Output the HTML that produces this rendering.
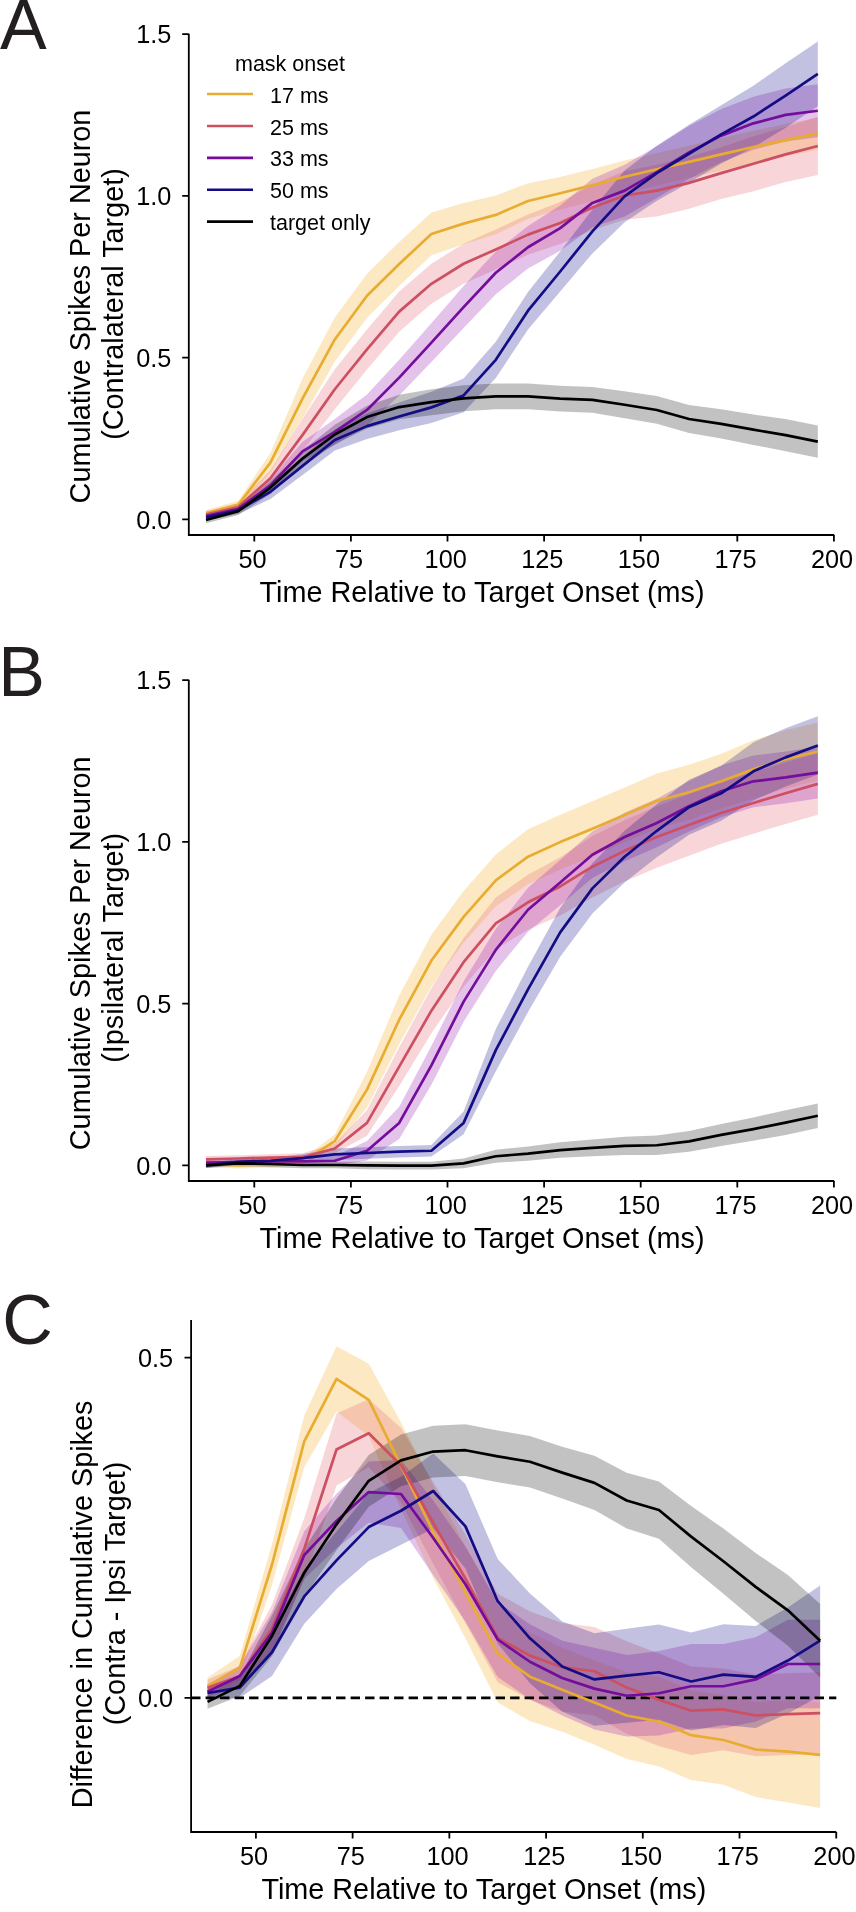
<!DOCTYPE html>
<html><head><meta charset="utf-8"><style>
html,body{margin:0;padding:0;background:#fff;}
svg{display:block;will-change:transform;}
text{font-family:"Liberation Sans",sans-serif;fill:#000;}
.tk{font-size:25.3px;}
.al{font-size:28.8px;}
.lg{font-size:21.5px;}
.pl{font-size:70px;fill:#231f20;}
</style></head><body>
<svg width="856" height="1912" viewBox="0 0 856 1912">
<rect width="856" height="1912" fill="#fff"/>
<text x="0" y="48.8" class="pl">A</text>
<text x="-1.8" y="696" class="pl">B</text>
<text x="2.2" y="1343.6" class="pl">C</text>
<polygon points="206,509.92 238.2,500.86 270.4,452.98 302.6,378.25 334.8,317.44 367,273.76 399.2,242.06 431.4,212.62 463.6,202.92 495.8,195.48 528,183.18 560.2,177.04 592.4,168.95 624.6,160.54 656.8,153.1 689,145.66 721.2,138.22 753.4,130.78 785.6,123.98 817.8,117.51 817.8,149.86 785.6,156.33 753.4,163.13 721.2,170.57 689,178.01 656.8,185.45 624.6,192.89 592.4,201.3 560.2,209.39 528,218.77 495.8,234.3 463.6,244.32 431.4,255.32 399.2,286.06 367,317.76 334.8,361.43 302.6,418.37 270.4,472.39 238.2,508.62 206,516.39" fill="#f6b73c" fill-opacity="0.3"/>
<polygon points="206,511.37 238.2,503.12 270.4,470.13 302.6,418.69 334.8,369.2 367,329.41 399.2,291.56 431.4,263.73 463.6,243.68 495.8,229.44 528,214.56 560.2,201.95 592.4,184.8 624.6,171.21 656.8,164.74 689,156.98 721.2,147.27 753.4,136.28 785.6,126.89 817.8,116.87 817.8,175.1 785.6,181.89 753.4,191.27 721.2,199.03 689,208.74 656.8,216.5 624.6,219.74 592.4,230.09 560.2,244 528,254.68 495.8,269.56 463.6,283.79 431.4,303.85 399.2,331.67 367,369.52 334.8,409.31 302.6,451.04 270.4,486.3 238.2,510.89 206,517.84" fill="#e16470" fill-opacity="0.27"/>
<polygon points="206,512.83 238.2,505.07 270.4,478.86 302.6,441.66 334.8,419.01 367,394.43 399.2,359.81 431.4,323.26 463.6,286.06 495.8,251.44 528,225.89 560.2,205.5 592.4,178.65 624.6,164.74 656.8,146.3 689,125.92 721.2,109.1 753.4,96.81 785.6,88.4 817.8,84.19 817.8,137.25 785.6,141.45 753.4,149.86 721.2,162.16 689,178.98 656.8,198.06 624.6,216.5 592.4,227.18 560.2,250.79 528,268.59 495.8,294.14 463.6,328.11 431.4,362.08 399.2,395.4 367,425.48 334.8,444.89 302.6,461.07 270.4,491.8 238.2,512.83 206,519.3" fill="#9a20b0" fill-opacity="0.27"/>
<polygon points="206,514.12 238.2,506.36 270.4,484.69 302.6,456.86 334.8,429.69 367,413.19 399.2,402.52 431.4,391.84 463.6,378.58 495.8,341.7 528,291.88 560.2,251.44 592.4,209.39 624.6,170.57 656.8,145.66 689,124.63 721.2,105.22 753.4,85.81 785.6,63.16 817.8,41.49 817.8,106.19 785.6,127.86 753.4,147.27 721.2,163.45 689,182.86 656.8,200.65 624.6,222.33 592.4,253.38 560.2,291.56 528,329.41 495.8,377.93 463.6,412.22 431.4,422.9 399.2,430.34 367,439.07 334.8,450.39 302.6,474.98 270.4,498.92 238.2,514.12 206,520.59" fill="#0d0887" fill-opacity="0.25"/>
<polygon points="206,516.71 238.2,507.33 270.4,481.13 302.6,450.39 334.8,424.84 367,405.75 399.2,394.75 431.4,389.25 463.6,385.37 495.8,383.43 528,383.43 560.2,385.69 592.4,386.99 624.6,391.19 656.8,396.05 689,405.1 721.2,409.31 753.4,414.49 785.6,419.01 817.8,425.48 817.8,457.83 785.6,451.36 753.4,444.89 721.2,438.42 689,432.93 656.8,423.87 624.6,418.37 592.4,412.87 560.2,411.57 528,409.31 495.8,409.31 463.6,411.25 431.4,415.13 399.2,419.34 367,428.4 334.8,444.25 302.6,466.57 270.4,494.07 238.2,515.09 206,523.18" fill="#000000" fill-opacity="0.24"/>
<polyline points="206,513.15 238.2,504.74 270.4,462.69 302.6,398.31 334.8,339.43 367,295.76 399.2,264.06 431.4,233.97 463.6,223.62 495.8,214.89 528,200.98 560.2,193.21 592.4,185.12 624.6,176.71 656.8,169.27 689,161.83 721.2,154.39 753.4,146.95 785.6,140.16 817.8,133.69" fill="none" stroke="#e8ac30" stroke-width="2.7" stroke-linejoin="round" stroke-linecap="butt"/>
<polyline points="206,514.61 238.2,507.01 270.4,478.22 302.6,434.87 334.8,389.25 367,349.46 399.2,311.61 431.4,283.79 463.6,263.73 495.8,249.5 528,234.62 560.2,222.97 592.4,207.45 624.6,195.48 656.8,190.62 689,182.86 721.2,173.15 753.4,163.77 785.6,154.39 817.8,145.98" fill="none" stroke="#cc5062" stroke-width="2.7" stroke-linejoin="round" stroke-linecap="butt"/>
<polyline points="206,516.06 238.2,508.95 270.4,485.33 302.6,451.36 334.8,431.95 367,409.96 399.2,377.61 431.4,342.67 463.6,307.08 495.8,272.79 528,247.24 560.2,228.15 592.4,202.92 624.6,190.62 656.8,172.18 689,152.45 721.2,135.63 753.4,123.34 785.6,114.92 817.8,110.72" fill="none" stroke="#740c9c" stroke-width="2.7" stroke-linejoin="round" stroke-linecap="butt"/>
<polyline points="206,517.36 238.2,510.24 270.4,491.8 302.6,465.92 334.8,440.04 367,426.13 399.2,416.43 431.4,407.37 463.6,395.4 495.8,359.81 528,310.64 560.2,271.5 592.4,231.38 624.6,196.45 656.8,173.15 689,153.75 721.2,134.33 753.4,116.54 785.6,95.51 817.8,73.84" fill="none" stroke="#140c84" stroke-width="2.7" stroke-linejoin="round" stroke-linecap="butt"/>
<polyline points="206,519.95 238.2,511.21 270.4,487.6 302.6,458.48 334.8,434.54 367,417.07 399.2,407.05 431.4,402.19 463.6,398.31 495.8,396.37 528,396.37 560.2,398.63 592.4,399.93 624.6,404.78 656.8,409.96 689,419.01 721.2,423.87 753.4,429.69 785.6,435.19 817.8,441.66" fill="none" stroke="#000000" stroke-width="2.7" stroke-linejoin="round" stroke-linecap="butt"/>
<path d="M188.8 33.8V535H834.2" fill="none" stroke="#000" stroke-width="1.8"/>
<text x="171.3" y="528.5" text-anchor="end" class="tk">0.0</text>
<text x="171.3" y="366.75" text-anchor="end" class="tk">0.5</text>
<text x="171.3" y="205" text-anchor="end" class="tk">1.0</text>
<text x="171.3" y="43.25" text-anchor="end" class="tk">1.5</text>
<text x="252.5" y="567.6" text-anchor="middle" class="tk">50</text>
<text x="349.1" y="567.6" text-anchor="middle" class="tk">75</text>
<text x="445.7" y="567.6" text-anchor="middle" class="tk">100</text>
<text x="542.3" y="567.6" text-anchor="middle" class="tk">125</text>
<text x="638.9" y="567.6" text-anchor="middle" class="tk">150</text>
<text x="735.5" y="567.6" text-anchor="middle" class="tk">175</text>
<text x="832.1" y="567.6" text-anchor="middle" class="tk">200</text>
<path d="M182.2 519.3H188.8M182.2 357.55H188.8M182.2 195.8H188.8M182.2 34.05H188.8M254.3 535V541.6M350.9 535V541.6M447.5 535V541.6M544.1 535V541.6M640.7 535V541.6M737.3 535V541.6M833.9 535V541.6" stroke="#000" stroke-width="1.8"/>
<polygon points="206,1160.77 238.2,1162.07 270.4,1161.09 302.6,1158.51 334.8,1134.57 367,1071.81 399.2,995.46 431.4,934.64 463.6,890.97 495.8,854.42 528,829.18 560.2,814.63 592.4,801.36 624.6,787.45 656.8,773.54 689,764.81 721.2,753.81 753.4,740.22 785.6,730.19 817.8,722.43 817.8,780.66 785.6,788.42 753.4,798.45 721.2,808.8 689,819.8 656.8,828.54 624.6,842.45 592.4,856.36 560.2,869.62 528,884.18 495.8,906.18 463.6,942.73 431.4,986.4 399.2,1043.99 367,1107.39 334.8,1147.51 302.6,1164.98 270.4,1167.56 238.2,1168.53 206,1167.24" fill="#f6b73c" fill-opacity="0.3"/>
<polygon points="206,1156.08 238.2,1155.27 270.4,1154.3 302.6,1153.33 334.8,1143.63 367,1109.98 399.2,1047.22 431.4,988.02 463.6,937.88 495.8,897.44 528,874.8 560.2,857.33 592.4,835.98 624.6,820.13 656.8,806.21 689,794.25 721.2,782.28 753.4,772.25 785.6,762.54 817.8,753.16 817.8,814.63 785.6,824.01 753.4,833.71 721.2,843.74 689,855.71 656.8,867.68 624.6,881.59 592.4,897.44 560.2,915.56 528,929.79 495.8,949.2 463.6,986.4 431.4,1033.31 399.2,1086.04 367,1135.86 334.8,1153.33 302.6,1161.09 270.4,1160.77 238.2,1161.74 206,1162.55" fill="#e16470" fill-opacity="0.27"/>
<polygon points="206,1160.12 238.2,1159.48 270.4,1158.83 302.6,1158.18 334.8,1155.92 367,1141.04 399.2,1106.75 431.4,1045.93 463.6,981.55 495.8,928.82 528,887.74 560.2,859.92 592.4,831.45 624.6,812.68 656.8,798.77 689,780.98 721.2,765.45 753.4,755.43 785.6,751.54 817.8,746.69 817.8,798.45 785.6,803.3 753.4,807.19 721.2,817.21 689,831.45 656.8,847.3 624.6,861.21 592.4,878.03 560.2,905.21 528,931.73 495.8,970.88 463.6,1021.67 431.4,1084.75 399.2,1139.1 367,1160.45 334.8,1165.62 302.6,1164.65 270.4,1164.01 238.2,1164.65 206,1165.3" fill="#9a20b0" fill-opacity="0.27"/>
<polygon points="206,1162.71 238.2,1159.15 270.4,1157.54 302.6,1154.3 334.8,1148.48 367,1147.18 399.2,1145.89 431.4,1144.92 463.6,1111.6 495.8,1029.11 528,966.67 560.2,908.12 592.4,863.15 624.6,830.8 656.8,804.27 689,779.69 721.2,765.78 753.4,742.16 785.6,728.25 817.8,716.28 817.8,774.51 785.6,786.48 753.4,800.39 721.2,820.77 689,834.68 656.8,857.33 624.6,882.56 592.4,913.62 560.2,956.64 528,1011.96 495.8,1071.16 463.6,1134.24 431.4,1156.57 399.2,1157.54 367,1158.83 334.8,1160.12 302.6,1162.07 270.4,1164.01 238.2,1164.33 206,1167.89" fill="#0d0887" fill-opacity="0.25"/>
<polygon points="206,1162.71 238.2,1160.77 270.4,1160.77 302.6,1161.74 334.8,1161.74 367,1161.42 399.2,1161.74 431.4,1161.74 463.6,1158.51 495.8,1149.77 528,1146.54 560.2,1142.33 592.4,1139.42 624.6,1136.83 656.8,1135.54 689,1131.01 721.2,1123.89 753.4,1117.42 785.6,1110.3 817.8,1103.51 817.8,1128.1 785.6,1134.89 753.4,1140.71 721.2,1145.89 689,1151.71 656.8,1154.95 624.6,1154.95 592.4,1156.24 560.2,1157.86 528,1160.77 495.8,1162.71 463.6,1168.21 431.4,1169.51 399.2,1169.51 367,1169.18 334.8,1168.21 302.6,1168.21 270.4,1167.24 238.2,1165.95 206,1167.89" fill="#000000" fill-opacity="0.24"/>
<polyline points="206,1164.01 238.2,1165.3 270.4,1164.33 302.6,1161.74 334.8,1141.04 367,1089.6 399.2,1019.72 431.4,960.52 463.6,916.85 495.8,880.3 528,856.68 560.2,842.12 592.4,828.86 624.6,814.95 656.8,801.04 689,792.3 721.2,781.31 753.4,769.34 785.6,759.31 817.8,751.54" fill="none" stroke="#e8ac30" stroke-width="2.7" stroke-linejoin="round" stroke-linecap="butt"/>
<polyline points="206,1159.32 238.2,1158.51 270.4,1157.54 302.6,1157.21 334.8,1148.48 367,1122.92 399.2,1066.63 431.4,1010.67 463.6,962.14 495.8,923.32 528,902.29 560.2,886.44 592.4,866.71 624.6,850.86 656.8,836.95 689,824.98 721.2,813.01 753.4,802.98 785.6,793.27 817.8,783.89" fill="none" stroke="#cc5062" stroke-width="2.7" stroke-linejoin="round" stroke-linecap="butt"/>
<polyline points="206,1162.71 238.2,1162.07 270.4,1161.42 302.6,1161.42 334.8,1160.77 367,1150.74 399.2,1122.92 431.4,1065.34 463.6,1001.61 495.8,949.85 528,909.73 560.2,882.56 592.4,854.74 624.6,836.95 656.8,823.04 689,806.21 721.2,791.33 753.4,781.31 785.6,777.42 817.8,772.57" fill="none" stroke="#740c9c" stroke-width="2.7" stroke-linejoin="round" stroke-linecap="butt"/>
<polyline points="206,1165.3 238.2,1161.74 270.4,1160.77 302.6,1158.18 334.8,1154.3 367,1153.01 399.2,1151.71 431.4,1150.74 463.6,1122.92 495.8,1050.13 528,989.32 560.2,932.38 592.4,888.38 624.6,856.68 656.8,830.8 689,807.19 721.2,793.27 753.4,771.28 785.6,757.37 817.8,745.4" fill="none" stroke="#140c84" stroke-width="2.7" stroke-linejoin="round" stroke-linecap="butt"/>
<polyline points="206,1165.3 238.2,1163.36 270.4,1164.01 302.6,1164.98 334.8,1164.98 367,1165.3 399.2,1165.62 431.4,1165.62 463.6,1163.36 495.8,1156.24 528,1153.65 560.2,1150.1 592.4,1147.83 624.6,1145.89 656.8,1145.24 689,1141.36 721.2,1134.89 753.4,1129.07 785.6,1122.6 817.8,1115.8" fill="none" stroke="#000000" stroke-width="2.7" stroke-linejoin="round" stroke-linecap="butt"/>
<path d="M188.8 679.8V1181H834.2" fill="none" stroke="#000" stroke-width="1.8"/>
<text x="171.3" y="1174.5" text-anchor="end" class="tk">0.0</text>
<text x="171.3" y="1012.75" text-anchor="end" class="tk">0.5</text>
<text x="171.3" y="851" text-anchor="end" class="tk">1.0</text>
<text x="171.3" y="689.25" text-anchor="end" class="tk">1.5</text>
<text x="252.5" y="1213.6" text-anchor="middle" class="tk">50</text>
<text x="349.1" y="1213.6" text-anchor="middle" class="tk">75</text>
<text x="445.7" y="1213.6" text-anchor="middle" class="tk">100</text>
<text x="542.3" y="1213.6" text-anchor="middle" class="tk">125</text>
<text x="638.9" y="1213.6" text-anchor="middle" class="tk">150</text>
<text x="735.5" y="1213.6" text-anchor="middle" class="tk">175</text>
<text x="832.1" y="1213.6" text-anchor="middle" class="tk">200</text>
<path d="M182.2 1165.3H188.8M182.2 1003.55H188.8M182.2 841.8H188.8M182.2 680.05H188.8M254.3 1181V1187.6M350.9 1181V1187.6M447.5 1181V1187.6M544.1 1181V1187.6M640.7 1181V1187.6M737.3 1181V1187.6M833.9 1181V1187.6" stroke="#000" stroke-width="1.8"/>
<polygon points="207.54,1677.73 239.78,1655.63 272.02,1544.07 304.26,1415.52 336.5,1346.14 368.75,1363.82 400.99,1422.32 433.23,1485.58 465.47,1546.12 497.71,1604.61 529.95,1632.5 562.2,1647.47 594.44,1660.39 626.68,1671.95 658.92,1676.71 691.16,1690.32 723.4,1695.08 755.65,1701.88 787.89,1700.52 820.13,1701.88 820.13,1807.99 787.89,1802.55 755.65,1797.11 723.4,1784.87 691.16,1780.1 658.92,1766.5 626.68,1759.02 594.44,1744.73 562.2,1731.81 529.95,1720.93 497.71,1702.56 465.47,1638.62 433.23,1578.08 400.99,1509.38 368.75,1435.92 336.5,1411.44 304.26,1467.21 272.02,1584.89 239.78,1680.11 207.54,1694.06" fill="#f6b73c" fill-opacity="0.3"/>
<polygon points="207.54,1679.71 239.78,1665.83 272.02,1604.61 304.26,1518.23 336.5,1413.48 368.75,1399.19 400.99,1427.76 433.23,1482.18 465.47,1534.55 497.71,1593.73 529.95,1611.41 562.2,1622.98 594.44,1627.06 626.68,1641.34 658.92,1653.59 691.16,1666.51 723.4,1668.55 755.65,1674.67 787.89,1673.31 820.13,1672.29 820.13,1753.92 787.89,1754.94 755.65,1756.3 723.4,1750.18 691.16,1754.94 658.92,1746.09 626.68,1733.85 594.44,1715.49 562.2,1711.4 529.95,1699.84 497.71,1682.16 465.47,1622.98 433.23,1563.8 400.99,1502.58 368.75,1467.21 336.5,1485.58 304.26,1579.45 272.02,1652.23 239.78,1686.24 207.54,1696.03" fill="#e16470" fill-opacity="0.27"/>
<polygon points="207.54,1684.88 239.78,1665.83 272.02,1612.09 304.26,1531.15 336.5,1493.74 368.75,1461.43 400.99,1460 433.23,1500.54 465.47,1546.8 497.71,1602.1 529.95,1624.34 562.2,1640.66 594.44,1647.81 626.68,1654.95 658.92,1651.07 691.16,1644.06 723.4,1644.06 755.65,1637.26 787.89,1619.78 820.13,1619.78 820.13,1708.21 787.89,1708.21 755.65,1721.61 723.4,1728.41 691.16,1728.41 658.92,1735.42 626.68,1736.57 594.44,1729.43 562.2,1715.49 529.95,1699.16 497.71,1676.92 465.47,1621.62 433.23,1575.36 400.99,1528.02 368.75,1522.65 336.5,1548.16 304.26,1578.76 272.02,1652.91 239.78,1686.24 207.54,1698.48" fill="#9a20b0" fill-opacity="0.27"/>
<polygon points="207.54,1686.24 239.78,1677.39 272.02,1628.42 304.26,1569.24 336.5,1531.83 368.75,1493.06 400.99,1476.73 433.23,1453.61 465.47,1484.22 497.71,1559.04 529.95,1593.39 562.2,1621.62 594.44,1633.18 626.68,1628.76 658.92,1624.61 691.16,1632.5 723.4,1624.34 755.65,1625.9 787.89,1607.47 820.13,1585.57 820.13,1695.76 787.89,1713.58 755.65,1727.93 723.4,1725.01 691.16,1730.45 658.92,1719.84 626.68,1722.63 594.44,1725.69 562.2,1711.4 529.95,1683.18 497.71,1643.38 465.47,1568.56 433.23,1528.43 400.99,1544.75 368.75,1561.08 336.5,1588.97 304.26,1623.66 272.02,1676.03 239.78,1697.8 207.54,1699.84" fill="#0d0887" fill-opacity="0.25"/>
<polygon points="207.54,1695.08 239.78,1675.69 272.02,1615.5 304.26,1548.84 336.5,1498.5 368.75,1454.97 400.99,1434.56 433.23,1425.72 465.47,1424.36 497.71,1430.48 529.95,1435.92 562.2,1446.81 594.44,1455.65 626.68,1472.65 658.92,1481.5 691.16,1505.98 723.4,1528.57 755.65,1552.92 787.89,1574.96 820.13,1603.93 820.13,1677.39 787.89,1645.7 755.65,1620.94 723.4,1593.87 691.16,1567.2 658.92,1538.63 626.68,1528.43 594.44,1510.06 562.2,1498.5 529.95,1487.62 497.71,1482.18 465.47,1476.05 433.23,1477.42 400.99,1486.26 368.75,1506.66 336.5,1550.2 304.26,1596.45 272.02,1656.31 239.78,1696.1 207.54,1708.68" fill="#000000" fill-opacity="0.24"/>
<line x1="191.1" y1="1697.8" x2="836.3" y2="1697.8" stroke="#000" stroke-width="2.7" stroke-dasharray="9.4 5.1"/>
<polyline points="207.54,1685.9 239.78,1667.87 272.02,1564.48 304.26,1441.36 336.5,1378.79 368.75,1399.87 400.99,1465.85 433.23,1531.83 465.47,1592.37 497.71,1653.59 529.95,1676.71 562.2,1689.64 594.44,1702.56 626.68,1715.49 658.92,1721.61 691.16,1735.21 723.4,1739.97 755.65,1749.5 787.89,1751.54 820.13,1754.94" fill="none" stroke="#e8ac30" stroke-width="2.7" stroke-linejoin="round" stroke-linecap="butt"/>
<polyline points="207.54,1687.87 239.78,1676.03 272.02,1628.42 304.26,1548.84 336.5,1449.53 368.75,1433.2 400.99,1465.17 433.23,1522.99 465.47,1578.76 497.71,1637.94 529.95,1655.63 562.2,1667.19 594.44,1671.27 626.68,1687.6 658.92,1699.84 691.16,1710.72 723.4,1709.36 755.65,1715.49 787.89,1714.12 820.13,1713.1" fill="none" stroke="#cc5062" stroke-width="2.7" stroke-linejoin="round" stroke-linecap="butt"/>
<polyline points="207.54,1691.68 239.78,1676.03 272.02,1632.5 304.26,1554.96 336.5,1520.95 368.75,1492.04 400.99,1494.01 433.23,1537.95 465.47,1584.21 497.71,1639.51 529.95,1661.75 562.2,1678.07 594.44,1688.62 626.68,1695.76 658.92,1693.24 691.16,1686.24 723.4,1686.24 755.65,1679.43 787.89,1663.99 820.13,1663.99" fill="none" stroke="#740c9c" stroke-width="2.7" stroke-linejoin="round" stroke-linecap="butt"/>
<polyline points="207.54,1693.04 239.78,1687.6 272.02,1652.23 304.26,1596.45 336.5,1560.4 368.75,1527.07 400.99,1510.74 433.23,1491.02 465.47,1526.39 497.71,1601.21 529.95,1638.28 562.2,1666.51 594.44,1679.43 626.68,1675.69 658.92,1672.22 691.16,1681.48 723.4,1674.67 755.65,1676.92 787.89,1660.53 820.13,1640.66" fill="none" stroke="#140c84" stroke-width="2.7" stroke-linejoin="round" stroke-linecap="butt"/>
<polyline points="207.54,1701.88 239.78,1685.9 272.02,1635.9 304.26,1572.64 336.5,1524.35 368.75,1480.82 400.99,1460.41 433.23,1451.57 465.47,1450.21 497.71,1456.33 529.95,1461.77 562.2,1472.65 594.44,1482.86 626.68,1500.54 658.92,1510.06 691.16,1536.59 723.4,1561.22 755.65,1586.93 787.89,1610.33 820.13,1640.66" fill="none" stroke="#000000" stroke-width="2.7" stroke-linejoin="round" stroke-linecap="butt"/>
<path d="M191.1 1320V1832H836.3" fill="none" stroke="#000" stroke-width="1.8"/>
<text x="173.2" y="1707" text-anchor="end" class="tk">0.0</text>
<text x="173.2" y="1366.9" text-anchor="end" class="tk">0.5</text>
<text x="254.1" y="1864.6" text-anchor="middle" class="tk">50</text>
<text x="350.82" y="1864.6" text-anchor="middle" class="tk">75</text>
<text x="447.55" y="1864.6" text-anchor="middle" class="tk">100</text>
<text x="544.28" y="1864.6" text-anchor="middle" class="tk">125</text>
<text x="641" y="1864.6" text-anchor="middle" class="tk">150</text>
<text x="737.73" y="1864.6" text-anchor="middle" class="tk">175</text>
<text x="834.45" y="1864.6" text-anchor="middle" class="tk">200</text>
<path d="M184.5 1697.8H191.1M184.5 1357.7H191.1M255.9 1832V1838.6M352.62 1832V1838.6M449.35 1832V1838.6M546.08 1832V1838.6M642.8 1832V1838.6M739.52 1832V1838.6M836.25 1832V1838.6" stroke="#000" stroke-width="1.8"/>
<text class="al" transform="translate(90.3 306.5) rotate(-90)" text-anchor="middle">Cumulative Spikes Per Neuron</text>
<text class="al" transform="translate(122.6 304) rotate(-90)" text-anchor="middle">(Contralateral Target)</text>
<text class="al" x="259.6" y="602.1">Time Relative to Target Onset (ms)</text>
<text class="al" transform="translate(90.3 953.3) rotate(-90)" text-anchor="middle">Cumulative Spikes Per Neuron</text>
<text class="al" transform="translate(122.6 947.8) rotate(-90)" text-anchor="middle">(Ipsilateral Target)</text>
<text class="al" x="259.6" y="1248.1">Time Relative to Target Onset (ms)</text>
<text class="al" transform="translate(92.3 1604.4) rotate(-90)" text-anchor="middle">Difference in Cumulative Spikes</text>
<text class="al" transform="translate(124.6 1593.5) rotate(-90)" text-anchor="middle">(Contra - Ipsi Target)</text>
<text class="al" x="261.4" y="1898.6">Time Relative to Target Onset (ms)</text>
<g class="lg">
<text x="235" y="71.1">mask onset</text>
<line x1="207" y1="94" x2="253" y2="94" stroke="#e8ac30" stroke-width="2.6"/>
<line x1="207" y1="126" x2="253" y2="126" stroke="#cc5062" stroke-width="2.6"/>
<line x1="207" y1="157.9" x2="253" y2="157.9" stroke="#740c9c" stroke-width="2.6"/>
<line x1="207" y1="189.8" x2="253" y2="189.8" stroke="#140c84" stroke-width="2.6"/>
<line x1="207" y1="221.6" x2="253" y2="221.6" stroke="#000" stroke-width="2.6"/>
<text x="270" y="102.6">17 ms</text>
<text x="270" y="134.5">25 ms</text>
<text x="270" y="166.4">33 ms</text>
<text x="270" y="198.3">50 ms</text>
<text x="270" y="230.2">target only</text>
</g>
</svg>
</body></html>
